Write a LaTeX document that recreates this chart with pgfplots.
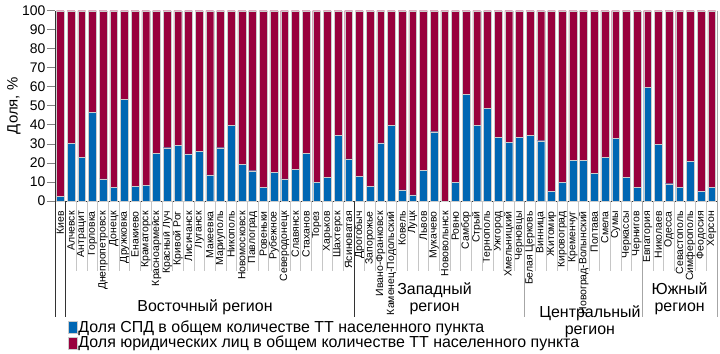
\documentclass[border=0pt]{standalone}
\usepackage{pgfplots}
\pgfplotsset{compat=1.18}
\usepackage{pgfplotstable}
\usepackage{fontspec}
\setmainfont{Liberation Sans}
\definecolor{spd}{RGB}{0,102,179}
\definecolor{jur}{RGB}{153,0,61}
\pgfplotstableread{
x spd jur
0 2.3 97.7
1 30.3 69.7
2 22.8 77.2
3 46.6 53.4
4 11.6 88.4
5 7.2 92.8
6 53.4 46.6
7 7.7 92.3
8 8.4 91.6
9 25.2 74.8
10 28.0 72.0
11 29.2 70.8
12 24.7 75.3
13 26.1 73.9
14 13.7 86.3
15 28.0 72.0
16 39.8 60.2
17 19.4 80.6
18 15.9 84.1
19 7.2 92.8
20 15.1 84.9
21 11.6 88.4
22 16.6 83.4
23 25.2 74.8
24 9.8 90.2
25 12.4 87.6
26 34.5 65.5
27 22.1 77.9
28 13.0 87.0
29 7.7 92.3
30 30.5 69.5
31 39.8 60.2
32 5.8 94.2
33 3.2 96.8
34 16.1 83.9
35 36.4 63.6
36 0.0 100.0
37 9.8 90.2
38 56.0 44.0
39 39.8 60.2
40 48.7 51.3
41 33.6 66.4
42 31.0 69.0
43 33.6 66.4
44 34.5 65.5
45 31.7 68.3
46 5.1 94.9
47 9.8 90.2
48 21.4 78.6
49 21.4 78.6
50 14.4 85.6
51 22.8 77.2
52 33.1 66.9
53 12.4 87.6
54 7.2 92.8
55 59.7 40.3
56 29.8 70.2
57 9.1 90.9
58 7.2 92.8
59 20.8 79.2
60 5.1 94.9
61 7.2 92.8
}\data
\begin{document}
\begin{tikzpicture}
\useasboundingbox (-55bp,-153bp) rectangle (665bp,201bp);
\begin{axis}[
  at={(0,0)}, anchor=south west,
  scale only axis, width=662bp, height=190.3bp,
  ybar stacked, bar width=7.8bp,
  xmin=-0.5, xmax=61.5, ymin=0, ymax=100,
  xtick=data,
  xticklabels={Киев,Алчевск,Антрацит,Горловка,Днепропетровск,Донецк,Дружковка,Енакиево,Краматорск,Красноармейск,Красный Луч,Кривой Рог,Лисичанск,Луганск,Макеевка,Мариуполь,Никополь,Новомосковск,Павлоград,Ровеньки,Рубежное,Северодонецк,Славянск,Стаханов,Торез,Харьков,Шахтерск,Ясиноватая,Дрогобыч,Запорожье,Ивано-Франковск,Каменец-Подольский,Ковель,Луцк,Львов,Мукачево,Нововолынск,Ровно,Самбор,Стрый,Тернополь,Ужгород,Хмельницкий,Черновцы,Белая Церковь,Винница,Житомир,Кировоград,Кременчуг,Новоград-Волынский,Полтава,Смела,Сумы,Черкассы,Чернигов,Евпатория,Николаев,Одесса,Севастополь,Симферополь,Феодосия,Херсон},
  xticklabel style={rotate=90, anchor=east, font=\fontsize{10.5}{11}\selectfont, inner sep=2bp},
  x tick style={draw=none},
  ytick={0,10,...,100},
  y tick style={draw=gray, line width=0.8pt},
  major tick length=8bp,
  tick align=outside,
  yticklabel style={font=\fontsize{14}{14}\selectfont, inner sep=1.5bp},
  /pgf/number format/assume math mode=true,
  ylabel={Доля, \%},
  ylabel style={font=\fontsize{15}{15}\selectfont, at={(axis description cs:-0.062,0.5)}, anchor=center},
  axis x line*=bottom,
  axis y line*=left,
  axis line style={draw=black!80, line width=0.6pt},
  clip=false,
  legend style={at={(axis description cs:0.0196,-0.622)}, anchor=north west, draw=none, fill=none,
    font=\fontsize{16}{16}\selectfont, row sep=0.5bp, inner sep=0pt, legend cell align=left,
    nodes={inner sep=1pt}},
  legend image code/.code={\fill[#1] (0bp,-6bp) rectangle (9bp,6bp);},
]
\addplot[fill=spd, draw=gray!40, line width=0.3pt] table[x=x, y=spd] {\data};
\addplot[fill=jur, draw=gray!40, line width=0.3pt] table[x=x, y=jur] {\data};
\legend{Доля СПД в общем количестве ТТ населенного пункта, Доля юридических лиц в общем количестве ТТ населенного пункта, \%}
\pgfplotsinvokeforeach{1.5,2.5,...,26.5,28.5,29.5,...,42.5,44.5,45.5,...,53.5,55.5,56.5,...,60.5}{
  \draw[gray!45, line width=0.5pt] (axis cs:#1,0) -- ([yshift=-70bp]axis cs:#1,0);
}
\draw[black!80, line width=0.6pt] (axis cs:-0.5,0) -- ([yshift=-116bp]axis cs:-0.5,0);
\draw[black!80, line width=0.6pt] (axis cs:0.5,0) -- ([yshift=-116bp]axis cs:0.5,0);
\draw[black!80, line width=0.6pt] (axis cs:27.5,0) -- ([yshift=-116bp]axis cs:27.5,0);
\draw[gray!70, line width=0.8pt] (axis cs:43.5,0) -- ([yshift=-116bp]axis cs:43.5,0);
\draw[gray!70, line width=0.8pt] (axis cs:54.5,0) -- ([yshift=-116bp]axis cs:54.5,0);
\draw[gray!70, line width=0.8pt] (axis cs:61.5,100) -- ([yshift=-116bp]axis cs:61.5,0);
\node[font=\fontsize{16}{17}\selectfont] at ([yshift=-106bp]axis cs:13.55,0) {Восточный регион};
\node[font=\fontsize{16}{17}\selectfont, align=center] at ([yshift=-97.5bp]axis cs:35.05,0) {Западный\\регион};
\node[font=\fontsize{16}{17}\selectfont, align=center] at ([yshift=-120.5bp]axis cs:49.6,0) {Центральный\\регион};
\node[font=\fontsize{16}{17}\selectfont, align=center] at ([yshift=-97.5bp]axis cs:58,0) {Южный\\регион};
\end{axis}
\end{tikzpicture}
\end{document}
